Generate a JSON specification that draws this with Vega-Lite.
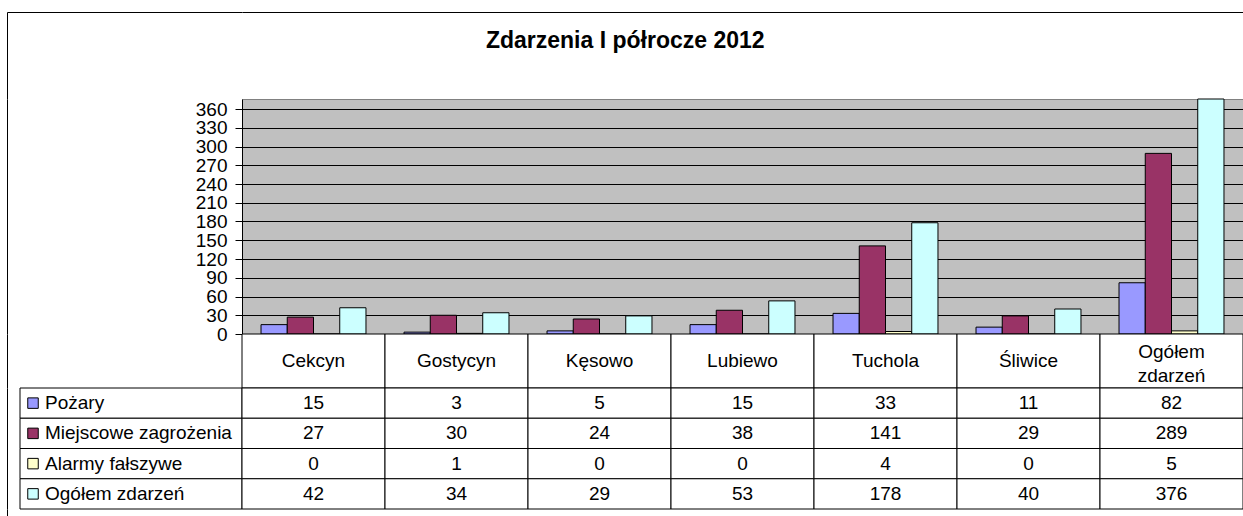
{
  "$schema": "https://vega.github.io/schema/vega-lite/v6.json",
  "padding": {"left": 7, "top": 12, "right": 0, "bottom": 0},
  "autosize": {"type": "pad"},
  "background": "white",
  "title": {"text": "Zdarzenia I półrocze 2012", "font": "Liberation Sans", "fontSize": 23, "fontWeight": "bold", "color": "black", "anchor": "middle", "offset": -59, "baseline": "alphabetic", "frame": "bounds"},
  "config": {
    "view": {"stroke": null},
    "font": "Liberation Sans",
    "text": {"font": "Liberation Sans", "fontSize": 19, "color": "black"},
    "axis": {"labelFont": "Liberation Sans"}
  },
  "datasets": {
    "d": [
      {"cat": "Cekcyn", "series": "Pożary", "value": 15},
      {"cat": "Cekcyn", "series": "Miejscowe zagrożenia", "value": 27},
      {"cat": "Cekcyn", "series": "Alarmy fałszywe", "value": 0},
      {"cat": "Cekcyn", "series": "Ogółem zdarzeń", "value": 42},
      {"cat": "Gostycyn", "series": "Pożary", "value": 3},
      {"cat": "Gostycyn", "series": "Miejscowe zagrożenia", "value": 30},
      {"cat": "Gostycyn", "series": "Alarmy fałszywe", "value": 1},
      {"cat": "Gostycyn", "series": "Ogółem zdarzeń", "value": 34},
      {"cat": "Kęsowo", "series": "Pożary", "value": 5},
      {"cat": "Kęsowo", "series": "Miejscowe zagrożenia", "value": 24},
      {"cat": "Kęsowo", "series": "Alarmy fałszywe", "value": 0},
      {"cat": "Kęsowo", "series": "Ogółem zdarzeń", "value": 29},
      {"cat": "Lubiewo", "series": "Pożary", "value": 15},
      {"cat": "Lubiewo", "series": "Miejscowe zagrożenia", "value": 38},
      {"cat": "Lubiewo", "series": "Alarmy fałszywe", "value": 0},
      {"cat": "Lubiewo", "series": "Ogółem zdarzeń", "value": 53},
      {"cat": "Tuchola", "series": "Pożary", "value": 33},
      {"cat": "Tuchola", "series": "Miejscowe zagrożenia", "value": 141},
      {"cat": "Tuchola", "series": "Alarmy fałszywe", "value": 4},
      {"cat": "Tuchola", "series": "Ogółem zdarzeń", "value": 178},
      {"cat": "Śliwice", "series": "Pożary", "value": 11},
      {"cat": "Śliwice", "series": "Miejscowe zagrożenia", "value": 29},
      {"cat": "Śliwice", "series": "Alarmy fałszywe", "value": 0},
      {"cat": "Śliwice", "series": "Ogółem zdarzeń", "value": 40},
      {"cat": "Ogółem zdarzeń", "series": "Pożary", "value": 82},
      {"cat": "Ogółem zdarzeń", "series": "Miejscowe zagrożenia", "value": 289},
      {"cat": "Ogółem zdarzeń", "series": "Alarmy fałszywe", "value": 5},
      {"cat": "Ogółem zdarzeń", "series": "Ogółem zdarzeń", "value": 376}
    ],
    "cats": [
      {"cat": "Cekcyn"}, {"cat": "Gostycyn"}, {"cat": "Kęsowo"}, {"cat": "Lubiewo"},
      {"cat": "Tuchola"}, {"cat": "Śliwice"}, {"cat": "Ogółem zdarzeń"}
    ],
    "ser": [
      {"series": "Pożary"}, {"series": "Miejscowe zagrożenia"}, {"series": "Alarmy fałszywe"}, {"series": "Ogółem zdarzeń"}
    ],
    "dummy": [{"d": 0.5}]
  },
  "columns": 2,
  "spacing": 0,
  "bounds": "flush",
  "concat": [
    {
      "width": 235, "height": 87,
      "data": {"name": "dummy"},
      "mark": {"type": "point", "opacity": 0, "size": 0},
      "encoding": {
        "x": {"field": "d", "type": "quantitative", "scale": {"domain": [0, 1]}, "axis": {"orient": "top", "title": null, "labels": false, "ticks": false, "grid": false, "domain": true, "domainColor": "black", "domainWidth": 1}},
        "y": {"field": "d", "type": "quantitative", "scale": {"domain": [0, 1]}, "axis": {"orient": "left", "title": null, "labels": false, "ticks": false, "grid": false, "domain": true, "domainColor": "black", "domainWidth": 1}}
      }
    },
    {
      "width": 1001, "height": 87,
      "data": {"name": "dummy"},
      "mark": {"type": "point", "opacity": 0, "size": 0},
      "encoding": {
        "x": {"field": "d", "type": "quantitative", "scale": {"domain": [0, 1]}, "axis": {"orient": "top", "title": null, "labels": false, "ticks": false, "grid": false, "domain": true, "domainColor": "black", "domainWidth": 1}}
      }
    },
    {
      "width": 235, "height": 235,
      "data": {"name": "dummy"},
      "mark": {"type": "point", "opacity": 0, "size": 0},
      "encoding": {
        "y": {"field": "d", "type": "quantitative", "scale": {"domain": [0, 1]}, "axis": {"orient": "left", "title": null, "labels": false, "ticks": false, "grid": false, "domain": true, "domainColor": "black", "domainWidth": 1}}
      }
    },
    {
      "width": 1001, "height": 235,
      "view": {"fill": "#C0C0C0", "stroke": "#808080"},
      "data": {"name": "d"},
      "mark": {"type": "bar", "stroke": "black", "strokeWidth": 1},
      "encoding": {
        "x": {"field": "cat", "type": "nominal", "sort": ["Cekcyn", "Gostycyn", "Kęsowo", "Lubiewo", "Tuchola", "Śliwice", "Ogółem zdarzeń"], "scale": {"paddingInner": 0.266, "paddingOuter": 0.133}, "axis": null},
        "xOffset": {"field": "series", "type": "nominal", "sort": ["Pożary", "Miejscowe zagrożenia", "Alarmy fałszywe", "Ogółem zdarzeń"], "scale": {"paddingInner": 0, "paddingOuter": 0}},
        "y": {"field": "value", "type": "quantitative", "scale": {"domain": [0, 376], "nice": false},
          "axis": {"values": [0, 30, 60, 90, 120, 150, 180, 210, 240, 270, 300, 330, 360], "grid": true, "gridColor": "black", "gridOpacity": 1, "gridWidth": 1, "tickColor": "black", "tickSize": 7, "domainColor": "black", "labelFontSize": 19, "labelColor": "black", "labelPadding": 8, "labelOverlap": false, "labelFlush": false, "labelBound": false, "title": null}},
        "color": {"field": "series", "type": "nominal", "scale": {"domain": ["Pożary", "Miejscowe zagrożenia", "Alarmy fałszywe", "Ogółem zdarzeń"], "range": ["#9999FF", "#993366", "#FFFFCC", "#CCFFFF"]}, "legend": null}
      }
    },
    {
      "width": 235, "height": 54,
      "data": {"name": "dummy"},
      "mark": {"type": "point", "opacity": 0, "size": 0},
      "encoding": {
        "y": {"field": "d", "type": "quantitative", "scale": {"domain": [0, 1]}, "axis": {"orient": "left", "title": null, "labels": false, "ticks": false, "grid": false, "domain": true, "domainColor": "black", "domainWidth": 1}}
      }
    },
    {
      "width": 1001, "height": 54,
      "data": {"name": "cats"},
      "encoding": {
        "x": {"field": "cat", "type": "nominal", "sort": ["Cekcyn", "Gostycyn", "Kęsowo", "Lubiewo", "Tuchola", "Śliwice", "Ogółem zdarzeń"], "scale": {"padding": 0}, "axis": null}
      },
      "layer": [
        {
          "mark": {"type": "rect", "fill": "white", "stroke": "black", "strokeWidth": 1}
        },
        {
          "transform": [{"filter": "datum.cat !== 'Ogółem zdarzeń'"}],
          "mark": {"type": "text", "fontSize": 19, "color": "black"},
          "encoding": {"text": {"field": "cat", "type": "nominal"}}
        },
        {
          "transform": [{"filter": "datum.cat === 'Ogółem zdarzeń'"}],
          "mark": {"type": "text", "fontSize": 19, "lineBreak": " ", "lineHeight": 24, "dy": -9, "color": "black"},
          "encoding": {"text": {"field": "cat", "type": "nominal"}}
        }
      ]
    },
    {
      "width": 235, "height": 121,
      "data": {"name": "ser"},
      "encoding": {
        "x": {"datum": "lab", "type": "nominal", "scale": {"domain": ["lab"], "paddingInner": 0, "paddingOuter": 0.0293, "align": 1}, "axis": null},
        "y": {"field": "series", "type": "nominal", "sort": ["Pożary", "Miejscowe zagrożenia", "Alarmy fałszywe", "Ogółem zdarzeń"], "scale": {"padding": 0}, "axis": {"orient": "left", "title": null, "labels": false, "ticks": false, "grid": false, "domain": true, "domainColor": "black", "domainWidth": 1}}
      },
      "layer": [
        {
          "mark": {"type": "rect", "fill": "white", "stroke": "black", "strokeWidth": 1}
        },
        {
          "mark": {"type": "point", "shape": "square", "filled": true, "size": 110, "stroke": "black", "strokeWidth": 1, "opacity": 1, "xOffset": 13},
          "encoding": {
            "x": {"datum": "lab", "type": "nominal", "bandPosition": 0, "axis": null},
            "color": {"field": "series", "type": "nominal", "scale": {"domain": ["Pożary", "Miejscowe zagrożenia", "Alarmy fałszywe", "Ogółem zdarzeń"], "range": ["#9999FF", "#993366", "#FFFFCC", "#CCFFFF"]}, "legend": null}
          }
        },
        {
          "mark": {"type": "text", "fontSize": 19, "align": "left", "dx": 25, "color": "black"},
          "encoding": {
            "x": {"datum": "lab", "type": "nominal", "bandPosition": 0, "axis": null},
            "text": {"field": "series", "type": "nominal"}
          }
        }
      ]
    },
    {
      "width": 1001, "height": 121,
      "data": {"name": "d"},
      "encoding": {
        "x": {"field": "cat", "type": "nominal", "sort": ["Cekcyn", "Gostycyn", "Kęsowo", "Lubiewo", "Tuchola", "Śliwice", "Ogółem zdarzeń"], "scale": {"padding": 0}, "axis": null},
        "y": {"field": "series", "type": "nominal", "sort": ["Pożary", "Miejscowe zagrożenia", "Alarmy fałszywe", "Ogółem zdarzeń"], "scale": {"padding": 0}, "axis": null}
      },
      "layer": [
        {
          "mark": {"type": "rect", "fill": "white", "stroke": "black", "strokeWidth": 1}
        },
        {
          "mark": {"type": "text", "fontSize": 19, "color": "black"},
          "encoding": {"text": {"field": "value", "type": "quantitative"}}
        }
      ]
    },
    {
      "width": 235, "height": 7,
      "data": {"name": "dummy"},
      "mark": {"type": "point", "opacity": 0, "size": 0},
      "encoding": {
        "y": {"field": "d", "type": "quantitative", "scale": {"domain": [0, 1]}, "axis": {"orient": "left", "title": null, "labels": false, "ticks": false, "grid": false, "domain": true, "domainColor": "black", "domainWidth": 1}}
      }
    },
    {
      "width": 1001, "height": 7,
      "data": {"name": "dummy"},
      "mark": {"type": "point", "opacity": 0, "size": 0},
      "encoding": {}
    }
  ]
}
